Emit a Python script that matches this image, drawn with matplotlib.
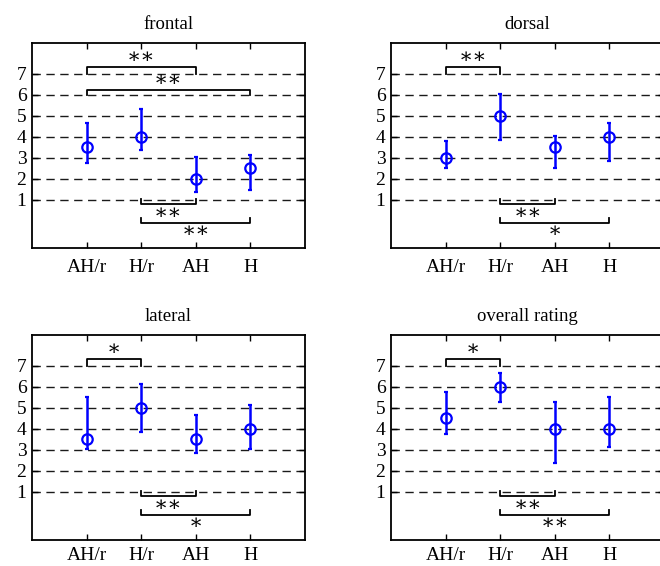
import numpy as np
import matplotlib
matplotlib.use('Agg')
import matplotlib.pyplot as plt

plt.rcParams['font.family'] = ['Liberation Serif', 'DejaVu Serif']

# datos
categorias = ['AH/r', 'H/r', 'AH', 'H']
titulos = ['frontal', 'dorsal', 'lateral', 'overall rating']

medianas = [
    [3.5, 4.0, 2.0, 2.5],
    [3.0, 5.0, 3.5, 4.0],
    [3.5, 5.0, 3.5, 4.0],
    [4.5, 6.0, 4.0, 4.0],
]
inferior = [
    [2.75, 3.38, 1.37, 1.48],
    [2.5, 3.86, 2.5, 2.87],
    [3.02, 3.86, 2.86, 3.02],
    [3.76, 5.27, 2.38, 3.14],
]
superior = [
    [4.65, 5.3, 3.03, 3.15],
    [3.78, 6.03, 4.05, 4.65],
    [5.51, 6.14, 4.63, 5.11],
    [5.76, 6.67, 5.29, 5.51],
]

# pares significativos (indices de categoria, etiqueta)
sig_arriba = [
    [(1, 3, '∗∗'), (1, 4, '∗∗')],
    [(1, 2, '∗∗')],
    [(1, 2, '∗')],
    [(1, 2, '∗')],
]
sig_abajo = [
    [(2, 3, '∗∗'), (2, 4, '∗∗')],
    [(2, 3, '∗∗'), (2, 4, '∗')],
    [(2, 3, '∗∗'), (2, 4, '∗')],
    [(2, 3, '∗∗'), (2, 4, '∗∗')],
]

# (pata, barra, texto) para cada nivel
NIVEL_ARRIBA = [(7.0, 7.33, 7.72), (6.0, 6.22, 6.63)]
NIVEL_ABAJO = [(1.05, 0.81, 0.33), (0.16, -0.09, -0.55)]

W, H = 660, 566
fig = plt.figure(figsize=(W / 100, H / 100), dpi=100)

posiciones = [
    (32, 43, 273, 205),
    (391, 43, 273, 205),
    (32, 335, 273, 205),
    (391, 335, 273, 205),
]

x = np.arange(1, 5)
for i, (l, t, w, h) in enumerate(posiciones):
    ax = fig.add_axes([l / W, 1 - (t + h) / H, w / W, h / H])
    med = np.array(medianas[i])
    err = [med - np.array(inferior[i]), np.array(superior[i]) - med]
    ax.errorbar(x, med, yerr=err, fmt='o', color='#0000ff', mfc='none',
                mec='#0000ff', ms=7.5, mew=1.6, elinewidth=1.8, capsize=1.5,
                capthick=1.5, zorder=5)

    for nivel, (a, b, txt) in enumerate(sig_arriba[i]):
        pata, barra, ytxt = NIVEL_ARRIBA[nivel]
        ax.plot([a, a, b, b], [pata, barra, barra, pata], color='k', lw=1.3,
                zorder=4)
        ax.text((a + b) / 2, ytxt, txt, ha='center', va='center', fontsize=15)
    for nivel, (a, b, txt) in enumerate(sig_abajo[i]):
        pata, barra, ytxt = NIVEL_ABAJO[nivel]
        ax.plot([a, a, b, b], [pata, barra, barra, pata], color='k', lw=1.3,
                zorder=4)
        ax.text((a + b) / 2, ytxt, txt, ha='center', va='center', fontsize=15)

    ax.set_xlim(0, 5)
    ax.set_ylim(-1.28, 8.45)
    ax.set_xticks(x)
    ax.set_xticklabels(categorias)
    ax.set_yticks(range(1, 8))
    ax.yaxis.grid(True, color='#1a1a1a', linestyle=(0, (6, 4)), lw=1.0)
    ax.set_axisbelow(True)
    ax.tick_params(direction='in', top=True, right=True, length=4,
                   width=1, labelsize=14)
    # la fila de abajo va pegada al borde: menos separacion
    ax.tick_params(axis='x', pad=8 if i < 2 else 5)
    ax.tick_params(axis='y', pad=4)
    for s in ax.spines.values():
        s.set_linewidth(1.3)
    ax.set_title(titulos[i], fontsize=13.5, pad=10)

fig.savefig('out.png', dpi=100)
